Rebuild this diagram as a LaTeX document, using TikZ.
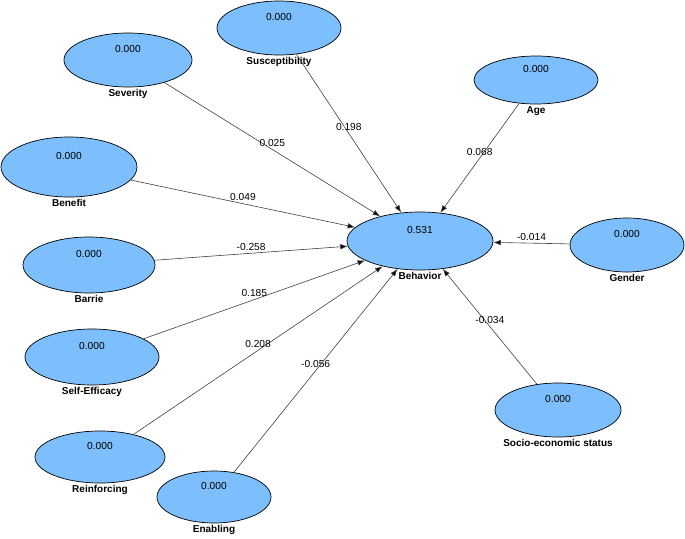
\documentclass[tikz,border=0pt]{standalone}
\usepackage{fontspec}
\setmainfont{Liberation Sans}
\usepackage[HTML]{xcolor}
\usepackage{tikz}
\usetikzlibrary{shapes.geometric, arrows.meta}

\definecolor{lvblue}{HTML}{7DBFFC}

\begin{document}
\begin{tikzpicture}[x=1pt, y=-1pt,
  lv/.style={ellipse, draw=black, fill=lvblue, line width=0.7pt, inner sep=0pt},
  val/.style={font=\fontsize{10.2}{11}\selectfont, yshift=11pt},
  lvname/.style={font=\fontsize{10}{11}\selectfont\bfseries, inner sep=2pt},
  coef/.style={font=\fontsize{10.2}{11}\selectfont, inner sep=0pt, yshift=6.5pt},
  path/.style={draw=black!75, line width=0.6pt,
    -{Latex[length=7.5pt,width=5.5pt,fill=black]}}]
\useasboundingbox (0,0) rectangle (685,538);

% Target construct
\node[lv, minimum width=146, minimum height=58,
  label={[val]center:0.531}, label={[lvname]below:Behavior}] (beh) at (420,241) {};

% Predictors
\foreach \n/\x/\y/\w/\h/\t in {sus/279/28/124/54/Susceptibility,
    sev/128/60/128/54/Severity, ben/69/167/136/60/Benefit,
    bar/89/265/132/56/Barrie, eff/92/357/134/56/Self-Efficacy,
    rei/100/457/130/52/Reinforcing, ena/214/497/114/52/Enabling,
    age/536/80/124/48/Age, gen/627/245/114/54/Gender,
    soc/558/410/126/54/Socio-economic status}{
  \node[lv, minimum width=\w, minimum height=\h,
    label={[val]center:0.000}, label={[lvname]below:\t}] (\n) at (\x,\y) {};
}

% Path coefficients
\foreach \n/\v in {sev/0.025, sus/0.198, age/0.068, ben/0.049, bar/-0.258,
    gen/-0.014, eff/0.185, rei/0.208, ena/-0.056, soc/-0.034}{
  \draw[path] (\n) -- (beh) node[midway, coef] {\v};
}
\end{tikzpicture}
\end{document}
